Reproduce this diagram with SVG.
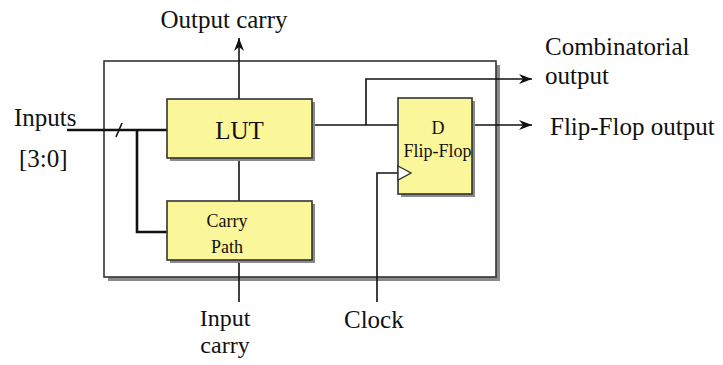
<svg xmlns="http://www.w3.org/2000/svg" width="723" height="365" viewBox="0 0 723 365">
<style>
text{font-family:"Liberation Serif","Times New Roman",serif;fill:#111}
.lbl{font-size:25px}
.sm{font-size:18px}
.box{fill:#faf69a;stroke:#333;stroke-width:1.6}
.shadow{fill:#8a8a8a}
.w{stroke:#111;stroke-width:1.6;fill:none}
.thick{stroke:#111;stroke-width:2.6;fill:none}
</style>
<defs>
<marker id="arr" markerWidth="14" markerHeight="10" refX="13" refY="5" orient="auto" markerUnits="userSpaceOnUse">
<path d="M0,0 L13,5 L0,10 L4,5 Z" fill="#111"/>
</marker>
</defs>
<rect width="723" height="365" fill="#fff"/>
<g id="outer">
<rect x="108" y="65" width="392" height="216" class="shadow"/>
<rect x="104" y="61" width="392" height="216" fill="#fff" stroke="#333" stroke-width="1.6"/>
</g>
<g id="connectors">
<line x1="239" y1="99" x2="239" y2="38" class="w" marker-end="url(#arr)"/>
<line x1="239" y1="158" x2="239" y2="201" class="w"/>
<line x1="239" y1="260" x2="239" y2="302" class="w"/>
<line x1="67" y1="130" x2="167" y2="130" class="thick"/>
<line x1="116" y1="137" x2="122" y2="123" class="w" stroke-width="2"/>
<polyline points="137,130 137,232 167,232" class="thick"/>
<line x1="312" y1="125" x2="398" y2="125" class="w"/>
<polyline points="366,125 366,79 532,79" class="w" marker-end="url(#arr)"/>
<line x1="472" y1="125" x2="532" y2="125" class="w" marker-end="url(#arr)"/>
<polyline points="377,302 377,173 398,173" class="w"/>
</g>
<g id="lut">
<rect x="170" y="102" width="145" height="59" class="shadow"/>
<rect x="167" y="99" width="145" height="59" class="box"/>
<text x="239.5" y="139" class="lbl" text-anchor="middle">LUT</text>
</g>
<g id="carry-path">
<rect x="170" y="204" width="145" height="59" class="shadow"/>
<rect x="167" y="201" width="145" height="59" class="box"/>
<text x="227" y="227" class="sm" text-anchor="middle">Carry</text>
<text x="227" y="253" class="sm" text-anchor="middle">Path</text>
</g>
<g id="flipflop">
<rect x="401" y="101" width="74" height="96" class="shadow"/>
<rect x="398" y="98" width="74" height="96" class="box"/>
<text x="438" y="134" class="sm" text-anchor="middle">D</text>
<text x="437.5" y="157" class="sm" text-anchor="middle">Flip-Flop</text>
<path d="M398,166 L411,173 L398,180 Z" fill="#fff" stroke="#333" stroke-width="1.4"/>
</g>
<g id="labels">
<text x="224" y="28" class="lbl" text-anchor="middle">Output carry</text>
<text x="14" y="126" class="lbl">Inputs</text>
<text x="19" y="167" class="lbl">[3:0]</text>
<text x="225" y="326" font-size="24" text-anchor="middle">Input</text>
<text x="225" y="353" font-size="24" text-anchor="middle">carry</text>
<text x="344" y="328" class="lbl">Clock</text>
<text x="545" y="55" class="lbl">Combinatorial</text>
<text x="545" y="84" class="lbl">output</text>
<text x="550" y="135" class="lbl">Flip-Flop output</text>
</g>
</svg>
